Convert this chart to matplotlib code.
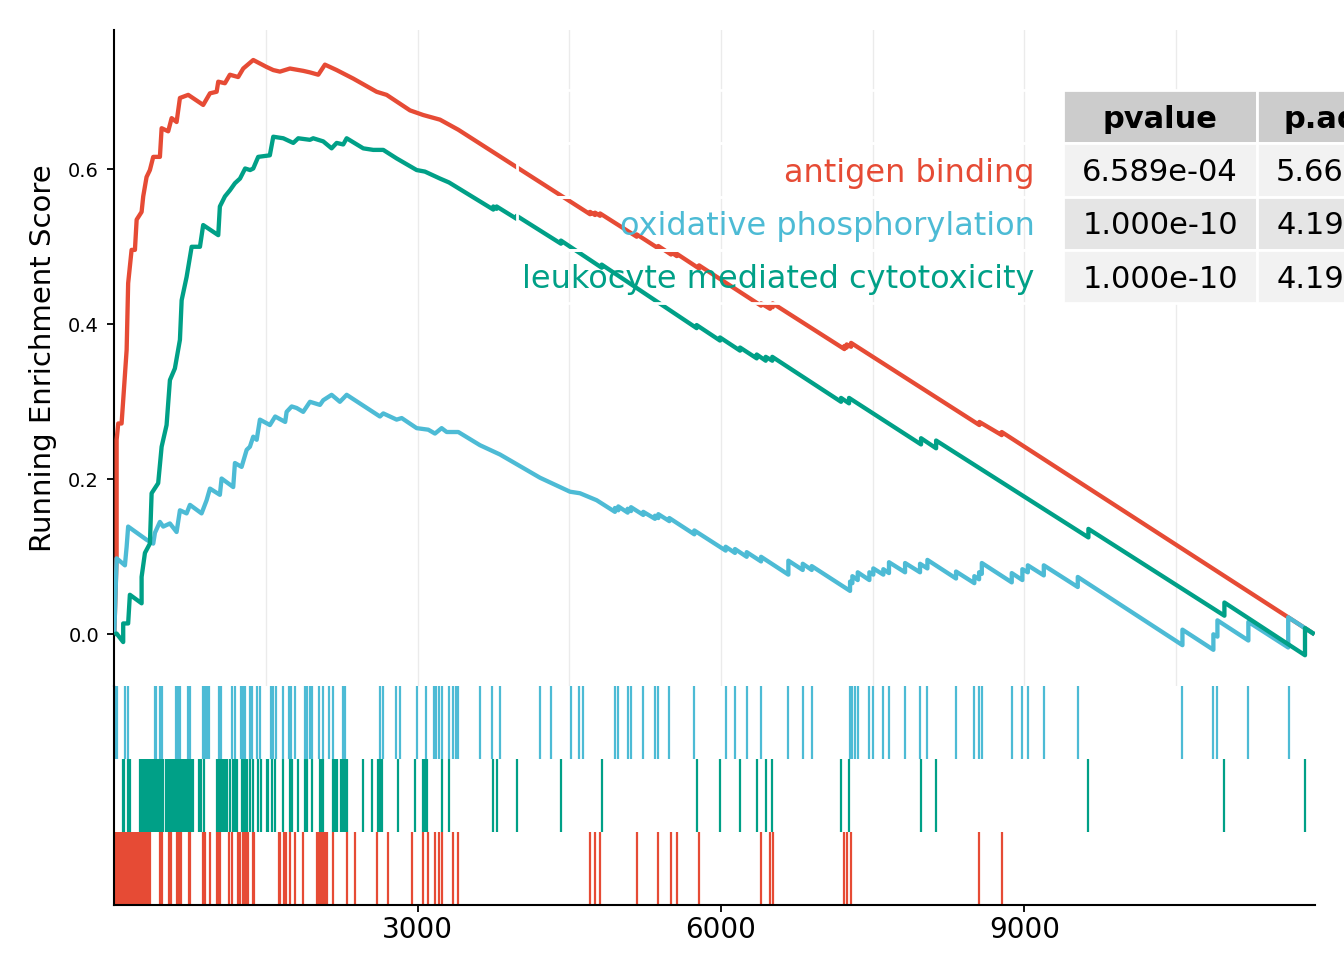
import matplotlib
matplotlib.use("Agg")
import matplotlib.pyplot as plt
from matplotlib.patches import Rectangle

plt.rcParams["font.family"] = ["DejaVu Sans"]

# ---- data ----
N_GENES = 11870

SETS = ["antigen binding", "oxidative phosphorylation", "leukocyte mediated cytotoxicity"]
COLORS = ["#E64B35", "#4DBBD5", "#00A087"]
PVALUE = ["6.589e-04", "1.000e-10", "1.000e-10"]
PADJUST = ["5.660e-03", "4.190e-09", "4.190e-09"]

RED_X = [1, 24, 24, 40, 73, 89, 123, 138, 172, 205,
         222, 271, 287, 320, 353, 386, 452, 469, 534, 568,
         617, 650, 732, 880, 947, 1013, 1029, 1095, 1144, 1226,
         1276, 1375, 1507, 1573, 1639, 1738, 1869, 1936, 2018, 2084,
         2200, 2364, 2595, 2694, 2925, 3056, 3222, 3403, 4706, 4706,
         4755, 4755, 4805, 4805, 5167, 5167, 5381, 5381, 5507, 5507,
         5563, 5563, 5784, 5784, 6397, 6397, 6486, 6486, 6512, 6512,
         7221, 7221, 7244, 7244, 7287, 7287, 8556, 8556, 8777, 8777,
         11870]
RED_Y = [0.0, 0.100, 0.251, 0.272, 0.272, 0.302, 0.367, 0.453, 0.496, 0.496,
         0.535, 0.545, 0.565, 0.590, 0.599, 0.616, 0.616, 0.653, 0.649, 0.666,
         0.661, 0.692, 0.696, 0.683, 0.698, 0.700, 0.713, 0.711, 0.722, 0.719,
         0.730, 0.741, 0.732, 0.728, 0.726, 0.730, 0.727, 0.725, 0.722, 0.735,
         0.728, 0.717, 0.700, 0.696, 0.676, 0.670, 0.664, 0.651, 0.542, 0.545,
         0.541, 0.544, 0.540, 0.543, 0.513, 0.516, 0.498, 0.501, 0.490, 0.493,
         0.488, 0.491, 0.472, 0.476, 0.424, 0.427, 0.420, 0.424, 0.422, 0.427,
         0.368, 0.372, 0.370, 0.374, 0.371, 0.376, 0.270, 0.274, 0.257, 0.261,
         0.0]

BLUE_X = [1, 24, 106, 123, 138, 320, 386, 403, 452, 485,
          551, 617, 650, 716, 749, 864, 914, 947, 1045, 1062,
          1177, 1194, 1260, 1310, 1342, 1375, 1409, 1441, 1540, 1592,
          1691, 1705, 1755, 1804, 1869, 1936, 2035, 2067, 2150, 2232,
          2299, 2628, 2661, 2793, 2843, 2991, 3106, 3172, 3238, 3288,
          3403, 3617, 3716, 3815, 4211, 4326, 4507, 4606, 4771, 4952,
          4952, 4985, 4985, 5078, 5078, 5111, 5111, 5232, 5232, 5348,
          5348, 5381, 5381, 5490, 5490, 5737, 5737, 6047, 6047, 6139,
          6139, 6255, 6255, 6397, 6397, 6667, 6667, 6809, 6809, 6898,
          6898, 7277, 7277, 7300, 7300, 7353, 7353, 7468, 7468, 7507,
          7507, 7606, 7606, 7662, 7662, 7821, 7821, 7969, 7969, 8042,
          8042, 8325, 8325, 8506, 8506, 8553, 8553, 8580, 8580, 8876,
          8876, 8981, 8981, 9035, 9035, 9193, 9193, 9529, 9529, 10564,
          10564, 10870, 10870, 10910, 10910, 11216, 11216, 11610, 11610, 11870]
BLUE_Y = [0.0, 0.098, 0.089, 0.113, 0.139, 0.122, 0.117, 0.131, 0.145, 0.139,
          0.143, 0.132, 0.160, 0.156, 0.167, 0.156, 0.173, 0.188, 0.180, 0.201,
          0.190, 0.221, 0.216, 0.238, 0.242, 0.255, 0.251, 0.277, 0.270, 0.281,
          0.274, 0.287, 0.294, 0.292, 0.287, 0.300, 0.296, 0.302, 0.309, 0.300,
          0.309, 0.281, 0.285, 0.277, 0.279, 0.266, 0.264, 0.259, 0.266, 0.261,
          0.261, 0.244, 0.238, 0.232, 0.202, 0.195, 0.184, 0.182, 0.173, 0.158,
          0.163, 0.160, 0.165, 0.157, 0.162, 0.159, 0.164, 0.154, 0.158, 0.149,
          0.153, 0.150, 0.155, 0.146, 0.150, 0.129, 0.134, 0.108, 0.113, 0.105,
          0.110, 0.100, 0.106, 0.094, 0.100, 0.077, 0.095, 0.083, 0.091, 0.083,
          0.088, 0.056, 0.068, 0.066, 0.075, 0.070, 0.080, 0.070, 0.080, 0.077,
          0.085, 0.077, 0.084, 0.079, 0.093, 0.080, 0.092, 0.080, 0.091, 0.085,
          0.096, 0.072, 0.081, 0.066, 0.075, 0.071, 0.080, 0.078, 0.092, 0.067,
          0.079, 0.070, 0.084, 0.080, 0.089, 0.076, 0.089, 0.061, 0.074, -0.014,
          0.006, -0.020, 0.000, -0.003, 0.018, -0.008, 0.016, -0.017, 0.022, 0.0]

GREEN_X = [1, 24, 89, 89, 138, 155, 271, 271, 304, 353,
           370, 435, 469, 518, 551, 600, 650, 667, 716, 766,
           848, 880, 1029, 1045, 1095, 1145, 1194, 1244, 1295, 1344,
           1375, 1424, 1539, 1573, 1672, 1771, 1820, 1936, 1968, 2067,
           2150, 2200, 2265, 2299, 2463, 2562, 2661, 2793, 2991, 3073,
           3222, 3311, 3749, 3749, 3782, 3782, 3980, 3980, 4418, 4418,
           4821, 4821, 5760, 5760, 5991, 5991, 6189, 6189, 6354, 6354,
           6443, 6443, 6508, 6508, 7188, 7188, 7267, 7267, 7979, 7979,
           8128, 8128, 9634, 9634, 10979, 10979, 11776, 11776, 11870]
GREEN_Y = [0.0, 0.001, -0.010, 0.014, 0.014, 0.051, 0.040, 0.074, 0.105, 0.117,
           0.182, 0.195, 0.242, 0.270, 0.328, 0.343, 0.380, 0.431, 0.461, 0.500,
           0.500, 0.528, 0.515, 0.552, 0.565, 0.573, 0.582, 0.588, 0.601, 0.599,
           0.601, 0.616, 0.618, 0.642, 0.640, 0.634, 0.640, 0.638, 0.640, 0.636,
           0.627, 0.634, 0.632, 0.640, 0.627, 0.625, 0.625, 0.614, 0.599, 0.597,
           0.588, 0.583, 0.548, 0.552, 0.549, 0.552, 0.536, 0.540, 0.504, 0.508,
           0.473, 0.477, 0.395, 0.399, 0.379, 0.383, 0.366, 0.370, 0.356, 0.361,
           0.353, 0.358, 0.353, 0.358, 0.300, 0.305, 0.298, 0.305, 0.245, 0.253,
           0.240, 0.250, 0.125, 0.136, 0.024, 0.041, -0.027, 0.008, 0.0]

# gene positions of the hits (rug rows)
RED_HITS = [5, 20, 35, 50, 65, 80, 95, 110, 125, 140, 155, 170, 185, 200, 215,
            230, 245, 260, 275, 290, 305, 320, 335, 350, 453, 475, 545, 565,
            620, 640, 660, 735, 748, 882, 900, 947, 1013, 1030, 1045, 1140,
            1165, 1228, 1248, 1272, 1290, 1312, 1325, 1372, 1380, 1625, 1639,
            1683, 1698, 1738, 1788, 1869, 2005, 2025, 2045, 2065, 2085, 2100,
            2166, 2299, 2384, 2595, 2710, 2948, 3056, 3106, 3172, 3215, 3244,
            3353, 3403, 4706, 4755, 4805, 5167, 5381, 5507, 5563, 5784, 6397,
            6486, 6512, 7221, 7244, 7287, 8556, 8777]
BLUE_HITS = [10, 25, 110, 140, 400, 415, 455, 472, 615, 630, 650, 730, 745,
             875, 895, 915, 935, 1035, 1055, 1165, 1190, 1258, 1275, 1290, 1340,
             1365, 1412, 1445, 1555, 1575, 1600, 1672, 1725, 1745, 1788, 1890,
             1910, 1935, 1955, 2025, 2060, 2120, 2160, 2259, 2282, 2628, 2655,
             2786, 2826, 2991, 3080, 3165, 3185, 3210, 3244, 3311, 3353, 3380,
             3403, 3621, 3733, 3815, 4211, 4319, 4517, 4597, 4639, 4952, 4985,
             5078, 5111, 5232, 5348, 5381, 5490, 5737, 6047, 6139, 6255, 6397,
             6667, 6809, 6898, 7277, 7300, 7330, 7353, 7468, 7507, 7606, 7662,
             7821, 7969, 8042, 8325, 8506, 8553, 8580, 8876, 8981, 9035, 9193,
             9529, 10564, 10870, 10910, 11216, 11616]
GREEN_HITS = [83, 100, 135, 155, 255, 270, 285, 300, 315, 330, 345, 360, 375,
              390, 403, 420, 435, 450, 470, 485, 512, 530, 550, 566, 585, 600,
              615, 630, 645, 660, 675, 690, 705, 720, 735, 750, 765, 780, 843,
              860, 888, 1015, 1030, 1045, 1060, 1075, 1090, 1105, 1120, 1145,
              1172, 1190, 1210, 1262, 1280, 1295, 1310, 1345, 1372, 1420, 1450,
              1507, 1520, 1560, 1588, 1672, 1740, 1755, 1820, 1890, 1903, 1958,
              2035, 2050, 2067, 2166, 2185, 2200, 2239, 2260, 2285, 2305, 2463,
              2546, 2611, 2630, 2651, 2803, 2974, 3050, 3073, 3096, 3238, 3311,
              3749, 3782, 3980, 4418, 4821, 5760, 5991, 6189, 6354, 6443, 6508,
              7188, 7267, 7979, 8128, 9634, 10979, 11776]

# ---- figure ----
W, H = 1344, 960
fig = plt.figure(figsize=(W / 100, H / 100), dpi=100)


def fx(px):
    return px / W


def fy(py):
    return 1 - py / H


LEFT, RIGHT = 114.3, 1314.5
ax = fig.add_axes([fx(LEFT), fy(686), (RIGHT - LEFT) / W, (686 - 30) / H])
axr = fig.add_axes([fx(LEFT), fy(905), (RIGHT - LEFT) / W, (905 - 686) / H])

# running score curves (drawn red, blue, green)
for xs, ys, c in [(RED_X, RED_Y, COLORS[0]), (BLUE_X, BLUE_Y, COLORS[1]),
                  (GREEN_X, GREEN_Y, COLORS[2])]:
    ax.plot(xs, ys, color=c, lw=3.1, solid_joinstyle="round",
            solid_capstyle="butt", zorder=3)

ax.set_xlim(1, N_GENES)
ax.set_ylim(-0.0667, 0.7797)
ax.set_xticks([3000, 6000, 9000])
ax.set_xticks([1500, 4500, 7500, 10500], minor=True)
ax.grid(axis="x", which="both", color="#EBEBEB", lw=1.0)
ax.set_axisbelow(True)
ax.tick_params(axis="x", which="both", length=0, labelbottom=False)
ax.set_yticks([0.0, 0.2, 0.4, 0.6])
ax.set_yticklabels(["0.0", "0.2", "0.4", "0.6"])
ax.tick_params(axis="y", length=5, width=1.3, labelsize=14, pad=6)
for s in ["top", "right", "bottom"]:
    ax.spines[s].set_visible(False)
ax.spines["left"].set_linewidth(1.5)
ax.set_ylabel("Running Enrichment Score", fontsize=21, labelpad=8)

# rug rows
for i, (hits, c) in enumerate([(RED_HITS, COLORS[0]), (GREEN_HITS, COLORS[2]),
                               (BLUE_HITS, COLORS[1])]):
    axr.vlines(hits, i, i + 1, color=c, lw=1.6)
axr.set_xlim(1, N_GENES)
axr.set_ylim(0, 3)
axr.set_yticks([])
axr.set_xticks([3000, 6000, 9000])
axr.set_xticklabels(["3000", "6000", "9000"])
axr.tick_params(axis="x", length=5, width=1.3, labelsize=20, pad=3)
for s in ["top", "right"]:
    axr.spines[s].set_visible(False)
axr.spines["left"].set_linewidth(1.5)
axr.spines["bottom"].set_linewidth(1.5)

# ---- p-value table (cut by the right edge, as in the reference) ----
X_EDGES = [517, 1063, 1257, 1451]
Y_EDGES = [90, 143, 196.5, 249.5, 302.5]
BODY_FILL = ["#F2F2F2", "#E5E5E5", "#F2F2F2"]

for r in range(4):
    y0, y1 = Y_EDGES[r], Y_EDGES[r + 1]
    for col in range(3):
        x0, x1 = X_EDGES[col], X_EDGES[col + 1]
        if col == 0:
            fc = "none"
        elif r == 0:
            fc = "#CCCCCC"
        else:
            fc = BODY_FILL[r - 1]
        fig.add_artist(Rectangle((fx(x0), fy(y1)), (x1 - x0) / W, (y1 - y0) / H,
                                 transform=fig.transFigure, facecolor=fc,
                                 edgecolor="white", lw=2, zorder=5))

hy = (Y_EDGES[0] + Y_EDGES[1]) / 2
for col, head in [(1, "pvalue"), (2, "p.adjust")]:
    cx = (X_EDGES[col] + X_EDGES[col + 1]) / 2
    fig.text(fx(cx), fy(hy), head, ha="center", va="center_baseline",
             fontsize=22, fontweight="bold", zorder=6)

for r in range(3):
    cy = (Y_EDGES[r + 1] + Y_EDGES[r + 2]) / 2
    fig.text(fx(1035), fy(cy), SETS[r], ha="right", va="center_baseline",
             fontsize=23, color=COLORS[r], zorder=6)
    for col, vals in [(1, PVALUE), (2, PADJUST)]:
        cx = (X_EDGES[col] + X_EDGES[col + 1]) / 2
        fig.text(fx(cx), fy(cy), vals[r], ha="center", va="center_baseline",
                 fontsize=22, zorder=6)

fig.savefig("out.png", dpi=100)
